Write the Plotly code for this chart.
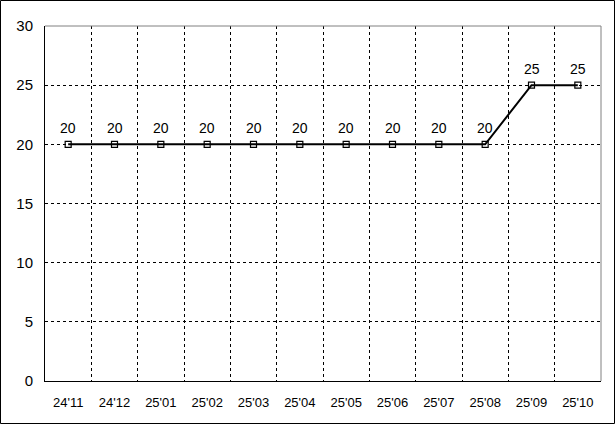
import plotly.graph_objects as go

categories = ["24'11", "24'12", "25'01", "25'02", "25'03", "25'04", "25'05", "25'06", "25'07", "25'08", "25'09", "25'10"]
values = [20, 20, 20, 20, 20, 20, 20, 20, 20, 20, 25, 25]
y_ticks = [0, 5, 10, 15, 20, 25, 30]

W, H = 615, 424
ML, MR, MT, MB = 45, 14, 26, 43
PW, PH = W - ML - MR, H - MT - MB

FONT = "Liberation Sans"

fig = go.Figure()
fig.add_trace(go.Scatter(
    x=categories, y=values,
    mode="lines+markers",
    line=dict(color="black", width=2),
    marker=dict(symbol="square-open", size=6, color="black", line=dict(width=1.2)),
    showlegend=False,
))

annotations = [
    dict(x=c, y=v, text=str(v), showarrow=False, yshift=16,
         font=dict(family=FONT, size=14, color="black"))
    for c, v in zip(categories, values)
]

fig.update_layout(
    width=W, height=H,
    margin=dict(l=ML, r=MR, t=MT, b=MB, pad=0, autoexpand=False),
    paper_bgcolor="white", plot_bgcolor="white",
    font=dict(family=FONT, size=14, color="black"),
    annotations=annotations,
    xaxis=dict(
        type="category", tickson="boundaries",
        range=[-0.5, len(categories) - 0.5],
        showgrid=True, gridcolor="black", gridwidth=1, griddash="3px,3px",
        showline=True, linecolor="black", linewidth=1,
        ticks="", ticklabelstandoff=9, automargin=False,
        tickfont=dict(family=FONT, size=13),
        zeroline=False,
    ),
    yaxis=dict(
        range=[0, 30], tickvals=y_ticks,
        showgrid=True, gridcolor="black", gridwidth=1, griddash="3px,3px",
        showline=True, linecolor="black", linewidth=1,
        ticks="outside", ticklen=8, tickcolor="rgba(0,0,0,0)", automargin=False,
        tickfont=dict(family=FONT, size=15),
        zeroline=False,
    ),
    shapes=[
        dict(type="line", xref="paper", yref="paper", x0=0, x1=1, y0=1, y1=1,
             line=dict(color="#808080", width=1), layer="above"),
        dict(type="line", xref="paper", yref="paper", x0=1, x1=1, y0=0, y1=1,
             line=dict(color="#808080", width=1), layer="above"),
        dict(type="rect", xref="paper", yref="paper",
             x0=(0.5 - ML) / PW, x1=(W - 0.5 - ML) / PW,
             y0=(MT + PH - (H - 0.5)) / PH, y1=(MT + PH - 0.5) / PH,
             line=dict(color="black", width=1), layer="above"),
    ],
)

fig.write_html("out.html", config={"displayModeBar": False},
               post_script="document.body.style.margin='0';document.body.style.overflow='hidden';")
